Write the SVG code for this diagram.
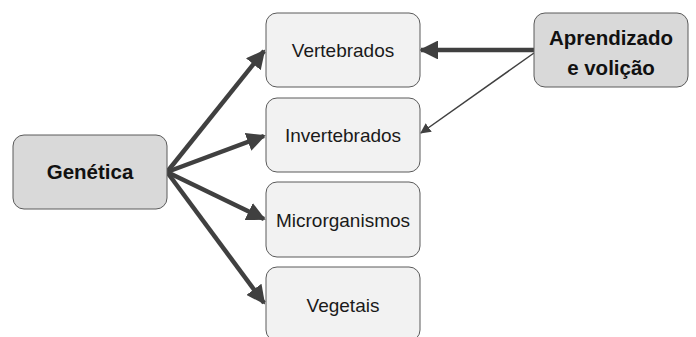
<svg xmlns="http://www.w3.org/2000/svg" width="696" height="337" viewBox="0 0 696 337">
<style>
.box{fill:#f2f2f2;stroke:#5a5a5a;stroke-width:1}
.dark{fill:#d9d9d9;stroke:#5a5a5a;stroke-width:1}
.t{font-family:"Liberation Sans",Arial,sans-serif;font-size:19px;fill:#1a1a1a;text-anchor:middle}
.b{font-family:"Liberation Sans",Arial,sans-serif;font-size:20.5px;font-weight:bold;fill:#111;text-anchor:middle}
.thick{stroke:#404040;stroke-width:4.5;fill:none}
.thin{stroke:#404040;stroke-width:1.5;fill:none}
</style>
<defs>
<marker id="ah" viewBox="0 0 10 10" refX="9" refY="5" markerWidth="4.2" markerHeight="4.2" markerUnits="strokeWidth" orient="auto">
<path d="M0,0 L10,5 L0,10 z" fill="#404040"/>
</marker>
<marker id="ahs" viewBox="0 0 10 10" refX="9" refY="5" markerWidth="7" markerHeight="7" markerUnits="strokeWidth" orient="auto">
<path d="M0,0 L10,5 L0,10 z" fill="#404040"/>
</marker>
</defs>
<rect width="696" height="337" fill="#fff"/>
<g id="connectors">
<line class="thick" x1="167" y1="172" x2="264" y2="51" marker-end="url(#ah)"/>
<line class="thick" x1="167" y1="172" x2="264" y2="136" marker-end="url(#ah)"/>
<line class="thick" x1="167" y1="172" x2="264" y2="219" marker-end="url(#ah)"/>
<line class="thick" x1="167" y1="172" x2="264" y2="303" marker-end="url(#ah)"/>
<line class="thick" x1="534" y1="50" x2="421" y2="50" marker-end="url(#ah)"/>
<line class="thin" x1="534" y1="53" x2="421" y2="133" marker-end="url(#ahs)"/>
</g>
<g id="genetica">
<rect class="dark" x="13" y="135" width="154" height="74" rx="11"/>
<text class="b" x="90" y="179">Genética</text>
</g>
<g id="vertebrados">
<rect class="box" x="266" y="13" width="154" height="74" rx="11"/>
<text class="t" x="343" y="57">Vertebrados</text>
</g>
<g id="invertebrados">
<rect class="box" x="266" y="98" width="154" height="74" rx="11"/>
<text class="t" x="343" y="142">Invertebrados</text>
</g>
<g id="microrganismos">
<rect class="box" x="266" y="182" width="154" height="75" rx="11"/>
<text class="t" x="343" y="227">Microrganismos</text>
</g>
<g id="vegetais">
<rect class="box" x="266" y="267" width="154" height="74" rx="11"/>
<text class="t" x="343" y="312">Vegetais</text>
</g>
<g id="aprendizado">
<rect class="dark" x="534" y="13" width="154" height="74" rx="11"/>
<text class="b" x="611" y="45">Aprendizado</text>
<text class="b" x="611" y="75">e volição</text>
</g>
</svg>
